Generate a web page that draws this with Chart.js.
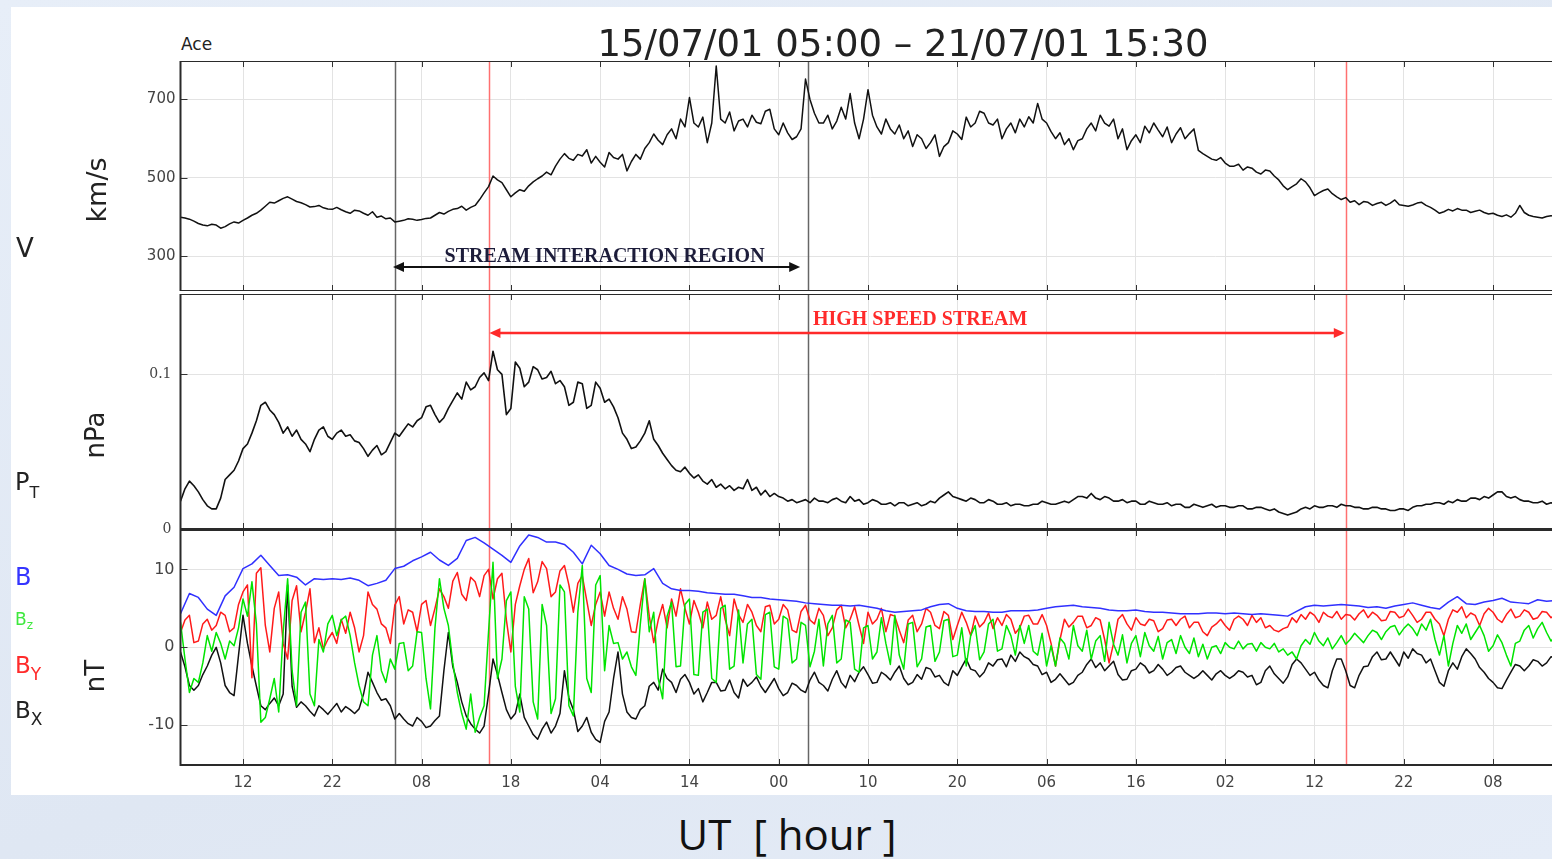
<!DOCTYPE html>
<html>
<head>
<meta charset="utf-8">
<title>ACE 15/07/01 - 21/07/01</title>
<script src="https://cdn.jsdelivr.net/npm/chart.js@4.4.1/dist/chart.umd.min.js"></script>
<style>
  html, body { margin: 0; padding: 0; }
  body {
    width: 1552px; height: 859px; overflow: hidden; position: relative;
    background: linear-gradient(160deg, #e7eef8 0%, #dfe7f3 60%, #e5ecf7 100%);
    font-family: "DejaVu Sans", sans-serif;
  }
  #sheet { position: absolute; left: 11px; top: 7px; width: 1560px; height: 788px; background: #fff; }
  canvas { position: absolute; left: 0; }
  .lbl { position: absolute; white-space: pre; line-height: 1; color: #222; }
  .rot { transform: translate(-50%, -50%) rotate(-90deg); }
  .sub { position: relative; }
</style>
</head>
<body>
<div id="sheet"></div>
<canvas id="vChart" width="1570" height="230" style="top:61px"></canvas>
<canvas id="pChart" width="1570" height="243" style="top:294px"></canvas>
<canvas id="bChart" width="1570" height="265" style="top:530px"></canvas>

<div class="lbl" style="left:903px; top:25px; font-size:37px; transform:translateX(-50%);">15/07/01 05:00 – 21/07/01 15:30</div>
<div class="lbl" style="left:181px; top:36px; font-size:17px;">Ace</div>

<div class="lbl" style="left:16px; top:235px; font-size:26px;">V</div>
<div class="lbl" style="left:15px; top:470px; font-size:24px;">P<span class="sub" style="font-size:16px; top:8px;">T</span></div>
<div class="lbl" style="left:15px; top:565px; font-size:24px; color:#3535ff;">B</div>
<div class="lbl" style="left:15px; top:611px; font-size:17px; color:#3ee83e;">B<span class="sub" style="font-size:12px; top:4px;">z</span></div>
<div class="lbl" style="left:15px; top:654px; font-size:23px; color:#ff2b2b;">B<span class="sub" style="font-size:17px; top:7px;">Y</span></div>
<div class="lbl" style="left:15px; top:699px; font-size:23px;">B<span class="sub" style="font-size:17px; top:7px;">X</span></div>

<div class="lbl rot" style="left:96px; top:190px; font-size:27px;">km/s</div>
<div class="lbl rot" style="left:95px; top:435px; font-size:26px;">nPa</div>
<div class="lbl rot" style="left:95px; top:676px; font-size:26px;">nT</div>

<div class="lbl" style="left:787px; top:813px; font-size:42px; font-family:'Open Sans', sans-serif; color:#111; transform:translateX(-50%);">UT  [ hour ]</div>

<script>
// time axis: hours since 15/07/01 05:00
const halfHour = 0.5;
const oneHour = 1;
const xMaxHours = 154.5;
const xTickHours = [7, 17, 27, 37, 47, 57, 67, 77, 87, 97, 107, 117, 127, 137, 147];
const xTickLabels = ['12', '22', '08', '18', '04', '14', '00', '10', '20', '06', '16', '02', '12', '22', '08'];

// event markers (hours): SIR start, HSS start, SIR end, HSS end
const markerHours = [24.0, 34.6, 70.3, 130.5];
const markerColors = ['#666666', '#ff7070', '#666666', '#ff7070'];
const sirSpan = [23.8, 69.4];
const hssSpan = [34.6, 130.4];

// solar wind speed, km/s (every 30 min, one row = 10 h)
const speed = [
  400, 398, 395, 390, 384, 380, 378, 382, 380, 372, 376, 383, 388, 385, 392, 398, 405, 410, 418, 428,
  438, 436, 442, 448, 452, 446, 440, 437, 432, 426, 427, 430, 424, 421, 420, 425, 419, 414, 410, 418,
  416, 410, 405, 414, 400, 403, 396, 398, 388, 390, 392, 396, 395, 392, 394, 397, 398, 405, 412, 408,
  415, 420, 422, 428, 418, 425, 430, 445, 462, 478, 505, 495, 488, 470, 452, 462, 470, 466, 480, 490,
  498, 505, 515, 508, 530, 548, 562, 550, 545, 560, 556, 572, 538, 555, 540, 528, 565, 552, 548, 560,
  518, 542, 560, 548, 575, 590, 612, 596, 585, 610, 625, 600, 650, 630, 705, 640, 630, 655, 590, 640,
  785, 650, 640, 668, 620, 645, 650, 630, 660, 642, 638, 670, 675, 625, 610, 640, 615, 598, 605, 625,
  752, 700, 665, 640, 640, 660, 625, 645, 680, 650, 715, 640, 600, 650, 725, 660, 630, 612, 650, 625,
  612, 635, 600, 620, 580, 610, 600, 575, 590, 610, 555, 580, 590, 620, 612, 598, 655, 630, 640, 670,
  665, 640, 635, 650, 600, 625, 640, 615, 650, 630, 656, 640, 690, 650, 640, 618, 600, 615, 585, 600,
  572, 595, 600, 625, 640, 620, 660, 640, 632, 650, 600, 625, 572, 595, 610, 590, 632, 615, 640, 622,
  605, 630, 590, 612, 628, 600, 613, 625, 570, 562, 555, 548, 545, 552, 538, 530, 530, 535, 520, 528,
  525, 515, 510, 520, 518, 505, 495, 480, 470, 478, 485, 498, 490, 475, 455, 462, 468, 472, 460, 452,
  445, 450, 438, 442, 432, 440, 438, 430, 435, 438, 430, 436, 444, 432, 430, 428, 431, 436, 438, 430,
  425, 418, 410, 414, 420, 416, 422, 418, 418, 412, 415, 418, 412, 408, 410, 405, 402, 406, 400, 410,
  430, 412, 405, 402, 400, 398, 402, 404,
  400
];

// total pressure, nPa (every 30 min)
const pressure = [
  0.018, 0.026, 0.031, 0.028, 0.024, 0.019, 0.015, 0.013, 0.013, 0.020, 0.032, 0.035, 0.038, 0.044, 0.052, 0.055, 0.062, 0.070, 0.080, 0.082,
  0.077, 0.074, 0.069, 0.062, 0.066, 0.060, 0.064, 0.058, 0.055, 0.050, 0.058, 0.064, 0.066, 0.060, 0.058, 0.062, 0.064, 0.060, 0.061, 0.057,
  0.056, 0.052, 0.047, 0.051, 0.054, 0.048, 0.050, 0.056, 0.062, 0.060, 0.064, 0.068, 0.066, 0.070, 0.072, 0.079, 0.080, 0.074, 0.069, 0.072,
  0.078, 0.083, 0.088, 0.084, 0.095, 0.090, 0.092, 0.098, 0.101, 0.096, 0.115, 0.103, 0.100, 0.074, 0.078, 0.108, 0.104, 0.092, 0.095, 0.105,
  0.103, 0.097, 0.098, 0.102, 0.094, 0.096, 0.092, 0.080, 0.082, 0.095, 0.094, 0.078, 0.080, 0.095, 0.091, 0.082, 0.084, 0.079, 0.072, 0.062,
  0.058, 0.052, 0.053, 0.057, 0.062, 0.070, 0.058, 0.054, 0.049, 0.045, 0.041, 0.038, 0.037, 0.040, 0.036, 0.033, 0.035, 0.031, 0.029, 0.032,
  0.027, 0.029, 0.026, 0.028, 0.025, 0.027, 0.026, 0.032, 0.025, 0.027, 0.022, 0.025, 0.021, 0.023, 0.021, 0.020, 0.018, 0.019, 0.017, 0.018,
  0.019, 0.017, 0.020, 0.018, 0.018, 0.017, 0.019, 0.020, 0.018, 0.017, 0.021, 0.018, 0.019, 0.016, 0.017, 0.019, 0.018, 0.016, 0.016, 0.017,
  0.015, 0.017, 0.017, 0.015, 0.016, 0.017, 0.015, 0.016, 0.018, 0.017, 0.020, 0.022, 0.024, 0.021, 0.020, 0.019, 0.018, 0.020, 0.019, 0.017,
  0.017, 0.019, 0.018, 0.016, 0.016, 0.017, 0.015, 0.016, 0.016, 0.015, 0.015, 0.016, 0.016, 0.018, 0.017, 0.016, 0.016, 0.017, 0.018, 0.017,
  0.019, 0.021, 0.021, 0.020, 0.023, 0.020, 0.019, 0.021, 0.020, 0.018, 0.018, 0.019, 0.017, 0.018, 0.018, 0.016, 0.016, 0.018, 0.017, 0.016,
  0.016, 0.017, 0.015, 0.016, 0.016, 0.014, 0.014, 0.016, 0.015, 0.014, 0.015, 0.016, 0.014, 0.015, 0.015, 0.014, 0.014, 0.015, 0.015, 0.013,
  0.013, 0.014, 0.014, 0.013, 0.012, 0.013, 0.011, 0.010, 0.009, 0.010, 0.011, 0.013, 0.014, 0.013, 0.015, 0.014, 0.014, 0.015, 0.015, 0.014,
  0.016, 0.015, 0.015, 0.014, 0.014, 0.013, 0.013, 0.014, 0.014, 0.013, 0.013, 0.012, 0.012, 0.013, 0.013, 0.012, 0.014, 0.015, 0.015, 0.016,
  0.016, 0.017, 0.017, 0.016, 0.018, 0.017, 0.019, 0.018, 0.018, 0.020, 0.020, 0.019, 0.021, 0.020, 0.022, 0.024, 0.024, 0.021, 0.020, 0.021,
  0.019, 0.018, 0.018, 0.017, 0.017, 0.018, 0.016, 0.017,
  0.016
];

// magnetic field magnitude, nT (hourly)
const bTotal = [
  4.3, 6.9, 6.4, 4.9, 4.1, 6.6, 7.7, 10.1, 10.7, 11.8,
  10.5, 9.2, 9.3, 9.0, 8.0, 8.8, 8.7, 8.8, 8.7, 8.9,
  8.6, 7.9, 8.2, 8.6, 10.1, 10.4, 11.1, 11.6, 12.2, 11.2,
  10.5, 11.4, 13.7, 14.1, 13.4, 12.6, 11.8, 10.9, 13.0, 14.4,
  14.1, 13.5, 13.5, 13.2, 12.2, 10.7, 13.1, 12.0, 10.5, 10.0,
  9.4, 9.2, 9.3, 10.1, 8.2, 7.5, 7.3, 7.3, 7.2, 7.0,
  6.9, 6.8, 6.8, 6.6, 6.4, 6.4, 6.2, 6.1, 6.0, 5.9,
  5.7, 5.6, 5.5, 5.4, 5.4, 5.3, 5.4, 5.2, 5.0, 4.7,
  4.5, 4.6, 4.7, 4.8, 5.2, 5.5, 5.6, 5.0, 4.7, 4.6,
  4.6, 4.5, 4.5, 4.7, 4.7, 4.7, 4.8, 5.0, 5.2, 5.3,
  5.4, 5.2, 5.1, 5.0, 4.8, 4.7, 4.7, 4.8, 4.6, 4.5,
  4.5, 4.4, 4.3, 4.3, 4.3, 4.4, 4.4, 4.3, 4.4, 4.3,
  4.2, 4.3, 4.2, 4.1, 4.0, 4.6, 5.2, 5.4, 5.3, 5.4,
  5.5, 5.4, 5.3, 5.1, 5.2, 5.0, 5.3, 5.5, 5.7, 5.4,
  5.1, 4.9, 5.8, 6.5, 5.6, 5.5, 5.8, 6.0, 6.3, 5.8,
  5.7, 5.6, 6.1, 5.9, 6.0
];

// field components, nT (every 30 min)
const bY = [
  1.9, 3.5, 4.1, 0.6, 0.8, 3.0, 3.6, 2.2, 2.8, 4.5, 4.1, 2.0, 2.5, 5.5, 7.1, 8.0, -3.9, 9.5, 10.2, 2.8,
  -0.6, 5.0, 7.1, 0.5, -1.5, 6.0, 7.9, 2.0, 4.5, 7.5, 0.6, 2.5, -0.2, 1.0, 1.9, 0.5, 3.6, 1.8, 4.5, 2.5,
  -0.6, 1.5, 7.1, 5.5, 4.9, 3.0, 2.5, 0.5, 5.4, 6.5, 3.0, 4.8, 4.5, 2.0, 5.5, 6.0, 2.8, 5.0, 7.5, 6.5,
  5.0, 8.5, 9.6, 6.8, 6.0, 9.0, 8.4, 6.5, 9.2, 10.0, 6.2, 8.8, 9.5, 3.5, -0.6, 5.5, 7.9, 10.0, 11.4, 7.0,
  8.4, 11.0, 10.1, 6.5, 7.1, 9.8, 10.5, 8.0, 4.5, 8.2, 9.2, 6.0, 2.8, 5.5, 7.1, 4.0, 7.1, 5.0, 3.6, 6.5,
  4.9, 2.0, 1.9, 5.5, 8.8, 4.0, 0.6, 3.5, 5.5, 2.5, 6.2, 4.0, 7.5, 5.0, 3.0, 6.0, 4.5, 2.5, 5.8, 3.6,
  4.1, 6.5, 3.6, 1.5, 6.2, 4.2, 3.2, 5.5, 4.5, 2.8, 2.0, 5.2, 5.4, 3.0, 3.6, 5.5, 4.8, 2.2, 1.9, 4.6,
  5.4, 3.5, 3.0, 5.0, 4.1, 1.5, 2.5, 4.8, 5.4, 2.5, 3.6, 5.2, 2.8, 0.5, 4.5, 3.0, 3.6, 5.0, 2.0, 4.2,
  4.0, 2.2, 0.6, 3.5, 4.1, 2.0, 3.0, 5.0, 4.5, 2.8, 2.4, 4.6, 4.1, 1.0, 2.8, 4.5, 3.2, 1.5, 4.0, 2.6,
  3.2, 4.4, 2.4, 3.8, 2.8, 4.2, 3.6, 1.8, 2.5, 4.0, 4.1, 3.0, 3.0, 4.2, 2.8, 0.5, -2.4, 1.0, 3.6, 2.6,
  3.2, 4.0, 4.0, 2.5, 2.8, 3.8, 3.5, 1.0, -2.0, 0.5, 3.6, 4.2, 3.0, 2.2, 3.8, 3.0, 2.8, 3.6, 3.4, 2.0,
  2.4, 3.5, 3.6, 2.8, 3.6, 4.0, 2.5, 3.2, 3.2, 2.0, 1.5, 2.6, 3.0, 3.6, 2.8, 2.2, 3.6, 4.0, 3.6, 2.8,
  4.1, 3.2, 3.8, 2.5, 2.8, 2.2, 2.0, 2.4, 2.6, 3.8, 3.2, 4.2, 3.6, 4.5, 4.1, 3.2, 4.5, 4.0, 3.8, 4.6,
  3.6, 4.2, 4.1, 3.5, 4.3, 4.8, 3.8, 4.5, 4.1, 3.4, 3.5, 4.6, 4.5, 3.8, 4.0, 4.9, 4.1, 3.2, 3.6, 4.5,
  4.5, 3.6, 3.0, 1.5, 3.6, 4.8, 4.5, 5.2, 3.8, 4.4, 4.1, 2.8, 4.3, 5.0, 4.5, 3.6, 3.2, 4.2, 4.9, 3.8,
  4.0, 4.8, 4.5, 3.6, 3.8, 4.6, 4.5, 3.8,
  4.2
];

const bZ = [
  3.2, -1.5, -5.8, -4.0, -4.5, -2.0, 1.5, -0.5, 1.9, 0.5, -1.5, 0.8, 0.2, 2.5, 6.2, 4.0, 8.4, 3.0, -9.6, -9.0,
  -6.6, -4.0, -8.3, 2.0, 8.8, -3.0, -7.5, 4.5, 5.8, -6.0, -7.5, 1.0, -0.6, 3.0, 4.1, 1.5, 3.5, 4.0, 1.5, -2.0,
  -4.9, -7.0, -7.5, -1.0, 1.5, -3.0, -4.5, -1.5, -2.8, 0.5, 0.6, -3.0, -2.4, 2.0, 1.9, -4.0, -7.9, 2.5, 8.8, 5.0,
  2.8, -2.0, -5.8, -8.5, -10.5, -6.0, -10.9, -9.0, -7.5, 2.0, 10.9, -4.0, -1.5, 6.0, 7.1, -5.0, -8.3, 6.5, 4.9, -7.0,
  -9.2, 5.5, 2.8, -8.5, -6.6, 8.0, 7.1, -7.5, -8.8, 4.5, 10.5, -4.0, -5.8, 8.0, 9.2, -3.0, 2.8, 0.5, 0.6, -1.5,
  -0.6, -2.5, -3.6, 3.0, 8.8, 2.0, 4.5, -4.0, -6.6, 4.0, 5.8, -2.5, -2.4, 5.5, 6.2, -3.5, -3.6, 4.5, 4.9, -4.0,
  -4.5, 5.0, 5.4, -2.8, -2.4, 4.8, -2.0, 3.0, 3.6, -3.5, -4.1, 4.2, 4.5, -2.5, -2.8, 4.0, 3.6, -2.0, -1.5, 3.2,
  2.8, -2.5, -0.5, 3.6, -2.4, 3.0, 4.1, -2.0, -1.5, 3.5, 3.2, -2.8, -3.2, 2.5, 2.8, -1.5, -0.6, 3.8, 0.5, -2.2,
  4.1, -1.0, -2.8, 3.0, 3.2, -2.5, -1.5, 2.6, 2.8, -1.8, -0.6, 3.4, 3.6, -1.2, -1.0, 2.5, -2.4, 1.5, 2.8, -1.6,
  -0.6, 3.0, 3.6, -0.5, -0.2, 2.8, 1.5, -1.0, 2.8, 0.5, 2.8, -0.5, -1.0, 1.8, -2.4, 0.2, -2.4, 1.2, 0.5, -1.5,
  2.8, 0.2, -0.5, 2.2, -1.5, 0.8, 1.5, -1.8, 3.2, 0.4, -1.0, 1.6, -2.0, 0.5, 1.5, -1.2, 1.9, 0.2, -0.5, 1.4,
  -1.5, 0.6, 1.0, -0.8, 1.5, 0.0, -0.8, 1.2, -1.2, 0.4, -1.5, 0.0, 0.2, -0.8, 0.6, 0.0, -0.2, 0.8, -0.2, 0.4,
  0.5, -0.5, 0.6, 0.0, -0.2, 0.5, -0.6, -0.2, -1.0, -0.6, -1.5, 0.2, 1.0, 0.4, 1.9, 0.8, 0.2, 1.2, -0.2, 0.6,
  1.5, 0.4, 1.0, 1.8, 1.2, 0.6, 1.5, 2.2, 1.9, 1.0, 2.0, 2.6, 2.8, 1.6, 2.4, 3.0, 2.4, 1.5, 3.0, 2.2,
  3.6, 1.0, -1.0, 1.5, -2.4, 0.5, 2.8, 1.8, 3.0, 1.0, 1.9, 2.8, 1.5, -0.5, 0.2, 1.6, 0.6, -1.0, -2.4, 0.5,
  0.8, 2.2, 2.8, 1.2, 2.4, 3.2, 1.9, 0.8,
  1.6
];

const bX = [
  -0.6, -2.5, -4.9, -5.5, -4.9, -3.5, -2.4, -1.0, 0.0, -2.0, -4.9, -5.8, -6.2, -1.0, 4.1, 0.5, -2.4, -5.0, -7.5, -8.0,
  -7.2, -6.5, -7.5, -6.0, 8.0, -5.0, -7.7, -7.0, -7.5, -8.2, -8.8, -7.5, -8.0, -8.6, -7.9, -7.2, -8.3, -7.6, -8.0, -8.5,
  -7.9, -6.0, -3.2, -4.5, -5.8, -6.8, -6.6, -7.5, -9.2, -8.5, -9.2, -9.8, -10.1, -9.0, -9.5, -10.3, -10.1, -9.4, -8.8, -3.0,
  1.9, -2.5, -4.5, -7.0, -8.8, -9.8, -10.5, -11.0, -10.1, -6.0, -1.5, -3.5, -5.8, -8.0, -9.2, -8.5, -6.0, -9.0, -10.1, -11.2,
  -11.8, -10.5, -9.6, -11.0, -10.1, -8.5, -3.0, -6.5, -8.0, -10.8, -10.1, -9.0, -10.9, -11.8, -12.2, -9.5, -8.3, -4.0, -0.6, -6.0,
  -8.3, -9.0, -9.2, -8.0, -7.5, -5.0, -4.5, -5.5, -2.8, -4.0, -4.5, -5.8, -4.1, -3.5, -4.5, -6.0, -5.3, -7.0, -5.8, -4.5,
  -4.5, -5.6, -5.5, -4.2, -5.8, -6.5, -4.1, -5.0, -4.5, -3.8, -5.0, -5.8, -4.9, -4.0, -5.3, -6.2, -5.8, -4.6, -4.9, -5.5,
  -5.8, -4.2, -3.2, -4.5, -4.9, -5.6, -4.1, -3.0, -4.5, -5.2, -3.6, -4.4, -3.2, -2.5, -3.5, -4.6, -4.5, -3.2, -3.6, -4.2,
  -3.2, -2.4, -4.0, -4.8, -4.5, -3.5, -4.1, -2.6, -2.8, -3.8, -3.6, -4.5, -4.9, -3.0, -3.6, -2.5, -1.5, -2.8, -3.0, -3.8,
  -3.2, -2.0, -2.4, -1.6, -1.5, -2.5, -1.0, -1.8, -0.6, -1.2, -1.5, -2.2, -2.4, -3.5, -3.2, -4.5, -4.1, -3.4, -4.1, -4.8,
  -4.5, -3.6, -3.2, -2.2, -1.5, -2.6, -2.0, -3.0, -2.4, -1.8, -3.5, -4.2, -4.1, -3.0, -2.8, -2.0, -2.4, -3.3, -3.0, -2.2,
  -2.8, -3.6, -3.2, -2.6, -2.4, -3.2, -3.6, -4.0, -3.6, -3.0, -3.6, -4.2, -3.4, -3.0, -3.6, -4.0, -3.6, -3.0, -3.2, -3.8,
  -3.6, -4.8, -4.5, -3.0, -2.4, -3.4, -4.0, -4.6, -3.8, -2.2, -1.5, -2.0, -2.8, -3.6, -3.2, -4.2, -4.9, -5.2, -3.0, -1.5,
  -1.5, -3.0, -4.9, -5.2, -3.6, -2.5, -2.4, -1.2, -0.6, -1.6, -1.5, -0.6, -1.5, -2.4, -0.6, -1.4, -0.2, -0.8, -1.0, -2.0,
  -1.5, -3.0, -4.5, -5.0, -3.0, -2.0, -2.8, -1.2, -0.2, -0.8, -1.5, -2.6, -3.2, -4.0, -4.5, -5.2, -5.3, -4.2, -3.2, -2.2,
  -2.4, -3.0, -2.4, -1.6, -1.8, -2.4, -2.0, -1.2,
  -1.5
];

const speedTicks = [300, 500, 700];
const pressureTicks = [0, 0.1];
const fieldTicks = [-10, 0, 10];

const toPoints = (arr, step) => arr.map((v, i) => ({ x: i * step, y: v }));

function arrowHead(ctx, tipX, y, dir) {
  ctx.beginPath();
  ctx.moveTo(tipX, y);
  ctx.lineTo(tipX - dir * 11, y - 5);
  ctx.lineTo(tipX - dir * 11, y + 5);
  ctx.closePath();
  ctx.fill();
}

const panelDecor = {
  id: 'panelDecor',
  beforeDatasetsDraw(chart) {
    const { ctx, chartArea: a, scales: { x } } = chart;
    ctx.save();
    ctx.lineWidth = 1.5;
    markerHours.forEach((h, i) => {
      const px = Math.round(x.getPixelForValue(h)) + 0.5;
      ctx.strokeStyle = markerColors[i];
      ctx.beginPath();
      ctx.moveTo(px, a.top);
      ctx.lineTo(px, a.bottom);
      ctx.stroke();
    });
    ctx.restore();
  },
  afterDatasetsDraw(chart, args, opts) {
    const { ctx, scales: { x, y } } = chart;
    (opts.spans || []).forEach(s => {
      const x1 = x.getPixelForValue(s.from);
      const x2 = x.getPixelForValue(s.to);
      const py = y.getPixelForValue(s.level);
      ctx.save();
      ctx.strokeStyle = s.color;
      ctx.fillStyle = s.color;
      ctx.lineWidth = s.width;
      ctx.beginPath();
      ctx.moveTo(x1 + 6, py);
      ctx.lineTo(x2 - 6, py);
      ctx.stroke();
      arrowHead(ctx, x1, py, -1);
      arrowHead(ctx, x2, py, 1);
      ctx.font = 'bold 20px "Liberation Serif", "Times New Roman", serif';
      ctx.fillStyle = s.textColor;
      ctx.textAlign = 'center';
      ctx.textBaseline = 'alphabetic';
      ctx.fillText(s.text, (x1 + x2) / 2 + s.shift, py - s.gap);
      ctx.restore();
    });
  },
  afterDraw(chart) {
    const { ctx, chartArea: a, scales: { x, y } } = chart;
    ctx.save();
    ctx.strokeStyle = '#333';
    ctx.lineWidth = 1;
    x.ticks.forEach(t => {
      const px = Math.round(x.getPixelForValue(t.value)) + 0.5;
      ctx.beginPath();
      ctx.moveTo(px, a.top); ctx.lineTo(px, a.top + 6);
      ctx.moveTo(px, a.bottom); ctx.lineTo(px, a.bottom - 6);
      ctx.stroke();
    });
    y.ticks.forEach(t => {
      const py = Math.round(y.getPixelForValue(t.value)) + 0.5;
      ctx.beginPath();
      ctx.moveTo(a.left, py); ctx.lineTo(a.left + 7, py);
      ctx.stroke();
    });
    ctx.strokeStyle = '#2a2a2a';
    ctx.lineWidth = 2;
    ctx.strokeRect(a.left, a.top, a.right - a.left, a.bottom - a.top);
    ctx.restore();
  }
};

function xScale(showLabels) {
  return {
    type: 'linear',
    min: 0,
    max: xMaxHours,
    afterBuildTicks: s => { s.ticks = xTickHours.map(v => ({ value: v })); },
    afterFit: s => { s.height = showLabels ? 30 : 0; s.paddingLeft = 0; s.paddingRight = 0; },
    grid: { color: '#e3e3e3', lineWidth: 1, drawTicks: false },
    border: { display: false },
    ticks: {
      display: showLabels,
      autoSkip: false,
      maxRotation: 0,
      padding: 9,
      color: '#444',
      font: { family: 'DejaVu Sans', size: 15 },
      callback: (v, i) => xTickLabels[i]
    }
  };
}

function yScale(min, max, tickValues, font, pad) {
  return {
    type: 'linear',
    min: min,
    max: max,
    afterBuildTicks: s => { s.ticks = tickValues.map(v => ({ value: v })); },
    afterFit: s => { s.width = 180.5; s.paddingTop = 0; s.paddingBottom = 0; },
    grid: { color: '#e3e3e3', lineWidth: 1, drawTicks: false },
    border: { display: false },
    ticks: { autoSkip: false, padding: pad, color: '#444', font: font, callback: v => String(v) }
  };
}

function line(data, step, color, width) {
  return {
    data: toPoints(data, step),
    borderColor: color,
    borderWidth: width,
    pointRadius: 0,
    tension: 0,
    borderJoinStyle: 'round',
    fill: false
  };
}

function makePanel(id, datasets, y, showLabels, padBottom, spans) {
  return new Chart(document.getElementById(id), {
    type: 'line',
    data: { datasets: datasets },
    options: {
      responsive: false,
      animation: false,
      devicePixelRatio: 1,
      layout: { padding: { left: 0, right: 10, top: 0, bottom: padBottom } },
      scales: { x: xScale(showLabels), y: y },
      plugins: {
        legend: { display: false },
        tooltip: { enabled: false },
        panelDecor: { spans: spans }
      }
    },
    plugins: [panelDecor]
  });
}

makePanel('vChart',
  [line(speed, halfHour, '#111', 1.5)],
  yScale(212, 798, speedTicks, { family: 'DejaVu Sans', size: 15 }, 5),
  false, 0,
  [{ from: sirSpan[0], to: sirSpan[1], level: 273, color: '#111', width: 2,
     text: 'STREAM INTERACTION REGION', textColor: '#1c1c3a', gap: 5, shift: 8 }]);

makePanel('pChart',
  [line(pressure, halfHour, '#111', 1.6)],
  yScale(0, 0.152, pressureTicks, { family: 'DejaVu Serif', size: 14 }, 9),
  false, 8,
  [{ from: hssSpan[0], to: hssSpan[1], level: 0.1268, color: '#ff2a2a', width: 2.5,
     text: 'HIGH SPEED STREAM', textColor: '#ff2a2a', gap: 8, shift: 3 }]);

makePanel('bChart',
  [line(bTotal, oneHour, '#3030ff', 1.5), line(bZ, halfHour, '#00e400', 1.5),
   line(bY, halfHour, '#ff1a1a', 1.5), line(bX, halfHour, '#111', 1.5)],
  yScale(-15.1, 15.05, fieldTicks, { family: 'DejaVu Sans', size: 16 }, 6),
  true, 0,
  []);
</script>
</body>
</html>
